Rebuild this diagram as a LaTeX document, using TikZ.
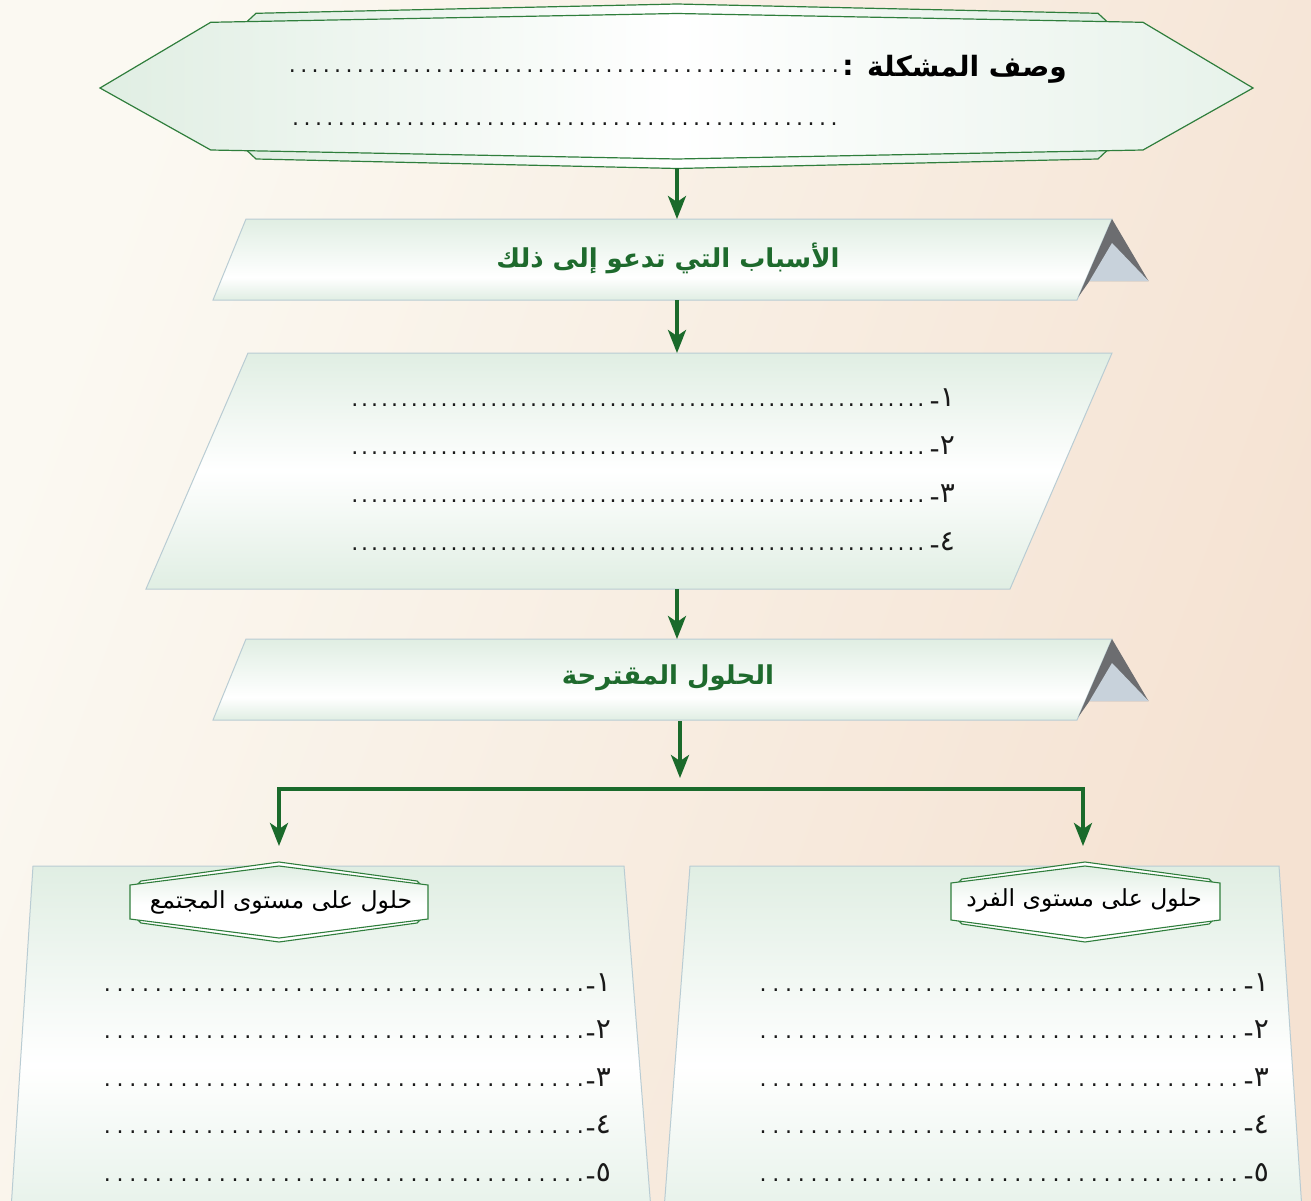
\documentclass[tikz,border=0pt]{standalone}
\usepackage{fontspec}
\setmainfont{DejaVu Sans}
\newfontfamily\arabicfont[Script=Arabic]{DejaVu Sans}
\usetikzlibrary{arrows.meta}
\TeXXeTstate=1
\definecolor{bgA}{HTML}{FBF9F2}
\definecolor{bgB}{HTML}{F5E2D2}
\definecolor{grn}{HTML}{1A6A2B}
\definecolor{hexline}{HTML}{2F7E3C}
\definecolor{pale}{HTML}{E0EEE3}
\definecolor{paleB}{HTML}{E7F2EA}
\definecolor{edge}{HTML}{B9CCD3}
\definecolor{tdark}{HTML}{6C6D70}
\definecolor{tlight}{HTML}{C8D2DB}
\definecolor{ttl}{HTML}{1E6A2D}
\pgfdeclareverticalshading{bannerS}{100bp}{color(0bp)=(pale); color(25bp)=(pale); color(39bp)=(white); color(75bp)=(pale); color(100bp)=(pale)}
\pgfdeclareverticalshading{paraS}{100bp}{color(0bp)=(pale); color(25bp)=(pale); color(50bp)=(white); color(75bp)=(pale); color(100bp)=(pale)}
\pgfdeclareverticalshading{panelS}{100bp}{color(0bp)=(paleB); color(25bp)=(paleB); color(46bp)=(white); color(75bp)=(pale); color(100bp)=(pale)}
\pgfdeclareverticalshading{hexS}{100bp}{color(0bp)=(white); color(25bp)=(white); color(48bp)=(white); color(75bp)=(pale); color(100bp)=(pale)}
\newcommand\dotline[2]{\hbox to #1pt{\xleaders\hbox to #2pt{\hss.\hss}\hfill}}
\newcommand\numlabel[1]{\raisebox{-0.16em}{-}\hbox{#1}}
\begin{document}
\begin{tikzpicture}[x=1pt,y=-1pt,
  arr/.style={draw=grn, line width=3.6pt, -{Stealth[length=23pt,width=18pt,inset=6pt]}},
  brk/.style={draw=grn, line width=3.6pt, line join=miter, {Stealth[length=23pt,width=18pt,inset=6pt]}-{Stealth[length=23pt,width=18pt,inset=6pt]}},
  bannerbox/.style={shading=bannerS, draw=edge, line width=1pt},
  parabox/.style={shading=paraS, draw=edge, line width=1pt},
  panelbox/.style={shading=panelS, draw=edge, line width=1pt},
  hexfront/.style={shading=hexS, draw=hexline, line width=1.1pt},
  hexback/.style={fill=white, draw=hexline, line width=1.1pt},
  tridark/.style={fill=tdark},
  trilight/.style={fill=tlight},
  ttlT/.style={inner sep=0pt, text=ttl, font=\arabicfont\bfseries\fontsize{26}{30}\selectfont},
  probT/.style={inner sep=0pt, text=black, font=\arabicfont\bfseries\fontsize{28}{32}\selectfont},
  hexT/.style={inner sep=0pt, text=black, font=\arabicfont\fontsize{23.5}{25}\selectfont},
  dotsT/.style={inner sep=0pt, text=black!90, font=\fontsize{22}{22}\selectfont},
  numT/.style={inner sep=0pt, text=black!90, font=\arabicfont\fontsize{28}{28}\selectfont}]
\useasboundingbox (0,0) rectangle (1311,1201);
% background
\shade[left color=bgA, right color=bgB, shading angle=70] (0,0) rectangle (1311,1201);
% ---------- problem banner
\path[left color=pale, right color=pale, middle color=white, draw=hexline, line width=1.2pt]
  (238,30) -- (256,13.3) -- (677,4) -- (1098,13.3) -- (1116,30) -- (1116,142) -- (1098,159) -- (677,168.5) -- (256,159) -- (238,142) -- cycle;
\path[left color=pale, right color=paleB, middle color=white, draw=hexline, line width=1.2pt]
  (100,88) -- (210.7,22.3) -- (677,13.5) -- (1143,22.3) -- (1253,88) -- (1143,150) -- (677,159) -- (210.7,150) -- cycle;
\node[probT, anchor=base east] (probTitle) at (1067,77) {\beginR وصف المشكلة\endR};
\node[probT, anchor=base] (colon) at (848,76) {:};
\node[dotsT, anchor=base east] (pd1) at (841,73) {\dotline{554}{11.3}};
\node[dotsT, anchor=base east] (pd2) at (840,126) {\dotline{550}{11.3}};
\coordinate (probB) at (677,168.5);
% ---------- causes banner
\path[bannerbox] (246,219) -- (1112,219) -- (1077,300) -- (213,300) -- cycle;
\path[tridark] (1112,219) -- (1148.5,281) -- (1089.5,281) -- (1078.3,297) -- cycle;
\path[trilight] (1112,243) -- (1148.5,281) -- (1089.5,281) -- cycle;
\node[ttlT] (causes) at (668,258) {\beginR الأسباب التي تدعو إلى ذلك\endR};
\coordinate (causesT) at (677,219);
\coordinate (causesB) at (677,300);
% ---------- causes list
\path[parabox] (248,353) -- (1112,353) -- (1010,589) -- (146,589) -- cycle;
\foreach \yy/\dd [count=\i] in {406/١,454/٢,502/٣,550/٤}{
  \node[dotsT, anchor=base east] (cd\i) at (926,\yy) {\dotline{576}{9.9}};
  \node[numT, anchor=base east] (cn\i) at (955,\yy) {\numlabel{\dd}};
}
\coordinate (listT) at (677,353);
\coordinate (listB) at (677,589);
% ---------- solutions banner
\path[bannerbox] (246,639) -- (1112,639) -- (1077,720) -- (213,720) -- cycle;
\path[tridark] (1112,639) -- (1148.5,701) -- (1089.5,701) -- (1078.3,717) -- cycle;
\path[trilight] (1112,663) -- (1148.5,701) -- (1089.5,701) -- cycle;
\node[ttlT] (sols) at (668,678) {\beginR الحلول المقترحة\endR};
\coordinate (solsT) at (677,639);
\coordinate (solsB) at (680,721);
\coordinate (split) at (680,778);
\coordinate (bar) at (680,789);
% ---------- bottom panels
\path[panelbox] (33,866) -- (624,866) -- (651,1210) -- (11,1210) -- cycle;
\path[panelbox] (690,866) -- (1279,866) -- (1302,1210) -- (664,1210) -- cycle;
% left hexagon label
\path[hexback] (135,887) -- (141,881) -- (279,862) -- (417,881) -- (423,887) -- (423,917) -- (417,923) -- (279,942) -- (141,923) -- (135,917) -- cycle;
\path[hexfront] (130,885) -- (279,866) -- (428,885) -- (428,919) -- (279,938) -- (130,919) -- cycle;
\node[hexT] (lhexL) at (281,902) {\beginR حلول على مستوى المجتمع\endR};
\coordinate (lhexT) at (279,846);
% right hexagon label
\path[hexback] (956,885) -- (962,879) -- (1085,862) -- (1209,879) -- (1215,885) -- (1215,918) -- (1209,924) -- (1085,942) -- (962,924) -- (956,918) -- cycle;
\path[hexfront] (951,883) -- (1085,866) -- (1220,883) -- (1220,920) -- (1085,938) -- (951,920) -- cycle;
\node[hexT] (rhexL) at (1084,900) {\beginR حلول على مستوى الفرد\endR};
\coordinate (rhexT) at (1083,846);
% rows
\foreach \yy/\dd [count=\i] in {991/١,1038/٢,1086/٣,1133/٤,1181/٥}{
  \node[dotsT, anchor=base east] (ld\i) at (587,\yy) {\dotline{486}{12.6}};
  \node[numT, anchor=base east] (ln\i) at (611,\yy) {\numlabel{\dd}};
  \node[dotsT, anchor=base east] (rd\i) at (1241,\yy) {\dotline{484}{12.6}};
  \node[numT, anchor=base east] (rn\i) at (1269,\yy) {\numlabel{\dd}};
}
% ---------- connectors
\draw[arr] (probB) -- (causesT);
\draw[arr] (causesB) -- (listT);
\draw[arr] (listB) -- (solsT);
\draw[arr] (solsB) -- (split);
\draw[brk] (lhexT) |- (bar) -| (rhexT);
\end{tikzpicture}
\end{document}
